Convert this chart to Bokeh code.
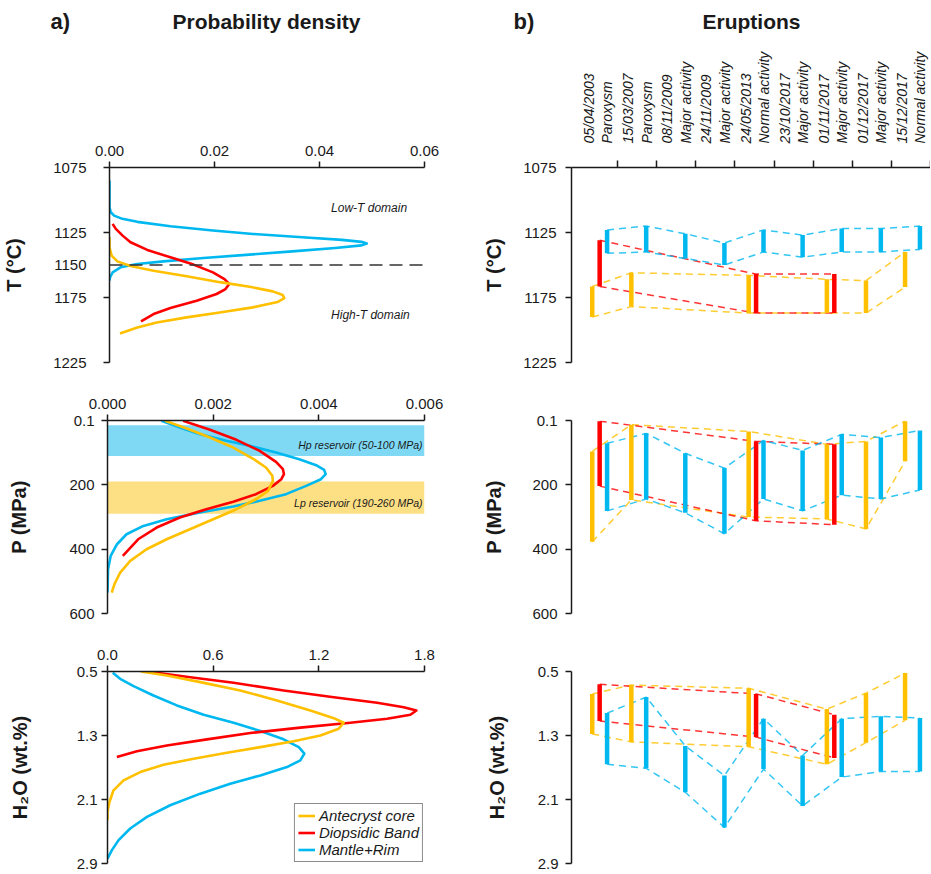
import math
from bokeh.plotting import figure
from bokeh.layouts import row, column
from bokeh.models import (Range1d, FixedTicker, PrintfTickFormatter, CustomJSTickFormatter,
                          Label, Legend, LegendItem, Span)
from bokeh.embed import file_html
from bokeh.resources import INLINE

# ---------------- data: probability density curves (left column) ----------------
T_core_T = [1128.7, 1136.4, 1142.8, 1147.2, 1150.7, 1154.4, 1158.7, 1163.2, 1166.7, 1170.3, 1173.1, 1175.4,
            1178.5, 1182.6, 1186.5, 1190.3, 1194.2, 1198, 1202.7]
T_core_d = [0, 0, 0.0004, 0.0015, 0.004, 0.0084, 0.0147, 0.021, 0.0267, 0.0311, 0.033, 0.0333,
            0.032, 0.0273, 0.021, 0.0147, 0.009, 0.0053, 0.002]
T_band_T = [1118.4, 1122.2, 1127.4, 1132.5, 1138.4, 1144.1, 1149.7, 1155.7, 1160.8, 1164.6, 1168.5, 1172.3,
            1177.5, 1183.1, 1187.7, 1193.4]
T_band_d = [0.0006, 0.0012, 0.0025, 0.004, 0.0072, 0.0116, 0.016, 0.0197, 0.0219, 0.0228, 0.0221, 0.0204,
            0.0166, 0.0116, 0.0084, 0.006]
T_rim_T = [1085, 1105.6, 1109.4, 1112, 1114.5, 1116.8, 1120.2, 1123.5, 1126.1, 1128.7, 1130.7, 1132.2, 1133.5,
           1134.9, 1136.9, 1139.5, 1141.8, 1144.6, 1147.2, 1149.2, 1151.8, 1155.7, 1159.5, 1162]
T_rim_d = [0, 0, 0.00025, 0.00088, 0.00245, 0.0053, 0.0116, 0.0197, 0.0273, 0.0367, 0.0443, 0.048, 0.049,
           0.048, 0.043, 0.0348, 0.0273, 0.0179, 0.0103, 0.0053, 0.0021, 0.0006, 0.0001, 0]

P_core_P = [1, 24.9, 52.9, 84, 118.2, 146.2, 172, 187.6, 218.7, 244.8, 275.8, 307, 338, 369.2, 400.3, 436.5,
            472.8, 509.2, 535]
P_core_d = [0.00109, 0.0015, 0.00194, 0.00238, 0.00275, 0.003, 0.00312, 0.00313, 0.00304, 0.00281, 0.00244,
            0.002, 0.00156, 0.00112, 0.00074, 0.00043, 0.00024, 0.00013, 0.00008]
P_band_P = [1, 29, 60.1, 94.3, 128.6, 151.4, 167, 182.5, 203.2, 229, 252.9, 275.8, 301.7, 332.8, 369.2, 421]
P_band_d = [0.00143, 0.00194, 0.00244, 0.00288, 0.00319, 0.00332, 0.00334, 0.00329, 0.00313, 0.00281, 0.00238,
            0.00187, 0.00137, 0.00093, 0.00058, 0.00029]
P_rim_P = [1, 21.8, 42.6, 63.2, 78.8, 99.5, 120.3, 139, 153.4, 167, 182.5, 203.2, 229, 249.8, 267.5, 286.2,
           307, 327.6, 353.6, 384.7, 421, 462.5, 535]
P_rim_d = [0.00102, 0.00137, 0.00175, 0.00225, 0.00269, 0.00319, 0.00363, 0.00395, 0.0041, 0.00413, 0.00404,
           0.00376, 0.00338, 0.00288, 0.00238, 0.00175, 0.00112, 0.00068, 0.00036, 0.00018, 0.00006, 0.00001, 0]

H_core_H = [0.5, 0.55, 0.633, 0.737, 0.862, 0.987, 1.083, 1.14, 1.215, 1.299, 1.373, 1.445, 1.515, 1.59, 1.665,
            1.757, 1.86, 1.985, 2.131, 2.256, 2.36]
H_core_d = [0.19, 0.337, 0.527, 0.754, 0.962, 1.152, 1.285, 1.341, 1.313, 1.209, 1.057, 0.868, 0.678, 0.489,
            0.318, 0.186, 0.091, 0.034, 0.011, 0, 0]
H_band_H = [0.5, 0.571, 0.641, 0.737, 0.821, 0.891, 0.946, 0.987, 1.04, 1.09, 1.14, 1.202, 1.269, 1.348, 1.424,
            1.498, 1.57]
H_band_d = [0.224, 0.47, 0.716, 1.0, 1.285, 1.531, 1.682, 1.754, 1.72, 1.588, 1.379, 1.095, 0.811, 0.565, 0.337,
            0.167, 0.053]
H_rim_H = [0.517, 0.591, 0.683, 0.8, 0.924, 1.04, 1.14, 1.245, 1.348, 1.445, 1.527, 1.611, 1.695, 1.799, 1.902,
           2.027, 2.172, 2.318, 2.463, 2.608, 2.733, 2.84]
H_rim_d = [0.03, 0.072, 0.148, 0.261, 0.394, 0.546, 0.716, 0.868, 1.0, 1.086, 1.118, 1.095, 1.019, 0.868, 0.697,
           0.527, 0.356, 0.224, 0.129, 0.063, 0.025, 0]

T_domain_limit = 1150
Hp_band = [15, 110]
Lp_band = [190, 290]

# ---------------- data: eruptions (right column) ----------------
dates = ["05/04/2003", "15/03/2007", "08/11/2009", "24/11/2009", "24/05/2013",
         "23/10/2017", "01/11/2017", "01/12/2017", "15/12/2017"]
kinds = ["Paroxysm", "Paroxysm", "Major activity", "Major activity", "Normal activity",
         "Major activity", "Major activity", "Major activity", "Normal activity"]

T_core_lo = [1166.5, 1156, None, None, 1158, None, 1161, 1162, 1140]
T_core_hi = [1190, 1182, None, None, 1187, None, 1187, 1187, 1167]
T_band_lo = [1131, None, None, None, 1157, None, 1157, None, None]
T_band_hi = [1166.5, None, None, None, 1187, None, 1187, None, None]
T_rim_lo = [1123, 1120, 1126, 1133, 1123, 1127, 1122, 1122, 1120]
T_rim_hi = [1141, 1140, 1145, 1150, 1140, 1144, 1140, 1140, 1138]

P_core_lo = [96, 13, None, None, 34, None, 74, 65, 2]
P_core_hi = [377, 247, None, None, 300, None, 306, 337, 127]
P_band_lo = [2, None, None, None, 65, None, 74, None, None]
P_band_hi = [204, None, None, None, 312, None, 324, None, None]
P_rim_lo = [71, 40, 102, 148, 62, 93, 43, 53, 31]
P_rim_hi = [281, 244, 287, 352, 244, 281, 232, 244, 216]

H_core_lo = [0.78, 0.67, None, None, 0.71, None, 0.97, 0.77, 0.52]
H_core_hi = [1.28, 1.38, None, None, 1.44, None, 1.66, 1.39, 1.11]
H_band_lo = [0.66, None, None, None, 0.78, None, 1.04, None, None]
H_band_hi = [1.12, None, None, None, 1.32, None, 1.58, None, None]
H_rim_lo = [1.02, 0.82, 1.43, 1.80, 1.09, 1.55, 1.09, 1.06, 1.08]
H_rim_hi = [1.66, 1.71, 2.01, 2.45, 1.72, 2.18, 1.82, 1.75, 1.75]

# ticks
T_ticks = [1075, 1125, 1175, 1225]
P_ticks = [0.1, 200, 400, 600]
H_ticks = [0.5, 1.3, 2.1, 2.9]
dT_ticks = [0, 0.02, 0.04, 0.06]
dP_ticks = [0, 0.002, 0.004, 0.006]
dH_ticks = [0, 0.6, 1.2, 1.8]

# ---------------- style ----------------
FONT = "Liberation Sans"
INK = "#1a1a1a"
C_CORE, C_BAND, C_RIM = "#FFC000", "#FF0000", "#00B8F0"
HP_FILL, LP_FILL = "#7FD9F4", "#FDDF84"
W_L, W_R = 470, 460
HDR_H = 48
ROWS = [(342, 119, 28), (250, 30, 27), (232, 31, 9)]


def base_axis(ax, standoff, size="15px"):
    ax.axis_line_width = 1.5
    ax.axis_line_color = INK
    ax.major_tick_line_width = 1.5
    ax.major_tick_line_color = INK
    ax.major_tick_out = 6
    ax.major_tick_in = 0
    ax.minor_tick_line_color = None
    ax.major_label_text_font = FONT
    ax.major_label_text_font_size = size
    ax.major_label_text_color = INK
    ax.major_label_standoff = standoff


def make_fig(w, dims, xr, yr, xloc, bl, br, yloc="left"):
    h, bt, bb = dims
    p = figure(width=w, height=h, x_range=Range1d(*xr), y_range=Range1d(*yr),
               x_axis_location=xloc, y_axis_location=yloc, output_backend="svg",
               toolbar_location=None, title=None, min_border_left=bl, min_border_right=br,
               min_border_top=bt, min_border_bottom=bb)
    p.outline_line_color = None
    p.grid.visible = False
    p.background_fill_color = "white"
    p.border_fill_color = "white"
    return p


def y_axis(p, ticks, fmt, label, standoff, lab_standoff):
    ya = p.yaxis[0]
    base_axis(ya, standoff)
    ya.ticker = FixedTicker(ticks=ticks)
    ya.formatter = PrintfTickFormatter(format=fmt)
    ya.axis_label = label
    ya.axis_label_text_font = FONT
    ya.axis_label_text_font_style = "bold"
    ya.axis_label_text_font_size = "20px"
    ya.axis_label_text_color = INK
    ya.axis_label_standoff = lab_standoff
    return ya


def left_panel(dims, xr, xticks, xfmt, yr, yticks, yfmt, ylabel, st, lst):
    p = make_fig(W_L, dims, xr, yr, "above", 107, 46)
    xa = p.xaxis[0]
    base_axis(xa, 6)
    xa.ticker = FixedTicker(ticks=xticks)
    xa.formatter = PrintfTickFormatter(format=xfmt)
    y_axis(p, yticks, yfmt, ylabel, st, lst)
    return p


def curve(p, x, y, color):
    return p.line(x, y, line_color=color, line_width=2.6, line_join="round")


def txt(p, x, y, text, size, style="italic", align="left", xoff=0, **kw):
    p.add_layout(Label(x=x, y=y, text=text, text_font=FONT, text_font_size=size,
                       text_font_style=style, text_align=align, text_baseline="middle",
                       text_color=INK, x_offset=xoff, **kw))


# ---- header ----
HDR = make_fig(W_L + W_R, (HDR_H, 0, 0), (0, W_L + W_R), (HDR_H, 0), None, 0, 0, yloc=None)
txt(HDR, 50, 21, "a)", "22px", style="bold")
txt(HDR, 266, 21, "Probability density", "21px", style="bold", align="center")
txt(HDR, 513, 21, "b)", "22px", style="bold")
txt(HDR, 751, 21, "Eruptions", "21px", style="bold", align="center")

# ---- left column ----
L1 = left_panel(ROWS[0], (0, 0.06), dT_ticks, "%.2f", (1225, 1075), T_ticks, "%d", "T (°C)", 11, 25)
ya1 = L1.yaxis[0]
# labels at the four ticks plus the domain limit; tick marks only at the four ticks
ya1.ticker = FixedTicker(ticks=sorted(T_ticks + [T_domain_limit]), minor_ticks=T_ticks)
ya1.major_tick_out = 0
ya1.major_tick_line_color = None
ya1.minor_tick_line_color = INK
ya1.minor_tick_line_width = 1.5
ya1.minor_tick_out = 6
ya1.minor_tick_in = 0
ya1.major_label_standoff = 17
curve(L1, T_rim_d, T_rim_T, C_RIM)
curve(L1, T_band_d, T_band_T, C_BAND)
curve(L1, T_core_d, T_core_T, C_CORE)
L1.add_layout(Span(location=T_domain_limit, dimension="width", line_color="#333333",
                   line_width=1.5, line_dash="13 7"))
txt(L1, 0.0422, 1105.8, "Low-T domain", "12px")
txt(L1, 0.0422, 1188.8, "High-T domain", "12px")

L2 = left_panel(ROWS[1], (0, 0.006), dP_ticks, "%.3f", (600, 0), P_ticks, "%g", "P (MPa)", 7, 36)
L2.quad(left=0, right=dP_ticks[-1], bottom=Hp_band[0], top=Hp_band[1], fill_color=HP_FILL, line_color=None)
L2.quad(left=0, right=dP_ticks[-1], bottom=Lp_band[0], top=Lp_band[1], fill_color=LP_FILL, line_color=None)
curve(L2, P_rim_d, P_rim_P, C_RIM)
curve(L2, P_band_d, P_band_P, C_BAND)
curve(L2, P_core_d, P_core_P, C_CORE)
txt(L2, 0.006, 77.7, "Hp reservoir (50-100 MPa)", "10.5px", align="right", xoff=-2)
txt(L2, 0.006, 258, "Lp reservoir (190-260 MPa)", "10.5px", align="right", xoff=-2)

L3 = left_panel(ROWS[2], (0, 1.8), dH_ticks, "%.1f", (2.9, 0.5), H_ticks, "%.1f", "H\u2082O (wt.%)", 4, 43)
r_rim = curve(L3, H_rim_d, H_rim_H, C_RIM)
r_band = curve(L3, H_band_d, H_band_H, C_BAND)
r_core = curve(L3, H_core_d, H_core_H, C_CORE)
legend = Legend(items=[LegendItem(label="Antecryst core", renderers=[r_core]),
                       LegendItem(label="Diopsidic Band", renderers=[r_band]),
                       LegendItem(label="Mantle+Rim", renderers=[r_rim])],
                location="bottom_right", margin=1, padding=3, spacing=0,
                glyph_width=17, glyph_height=17, label_height=17, label_standoff=4,
                label_text_font=FONT, label_text_font_size="15px", label_text_font_style="italic",
                label_text_color=INK, border_line_color=INK, border_line_width=1.5,
                background_fill_color="white", background_fill_alpha=1)
L3.add_layout(legend)

# ---- right column ----
OFFS = {"core": 0.35, "band": 0.54, "rim": 0.73}


def draw_ranges(p, series):
    drawn = []
    for lo, hi, color, off in series:
        idx = [i for i, v in enumerate(lo) if v is not None]
        xs = [i + off for i in idx]
        ylo = [lo[i] for i in idx]
        yhi = [hi[i] for i in idx]
        for ys in (ylo, yhi):
            p.line(xs, ys, line_color=color, line_width=1.5, line_dash="7 5", line_alpha=0.8)
        drawn.append((xs, ylo, yhi, color))
    for xs, ylo, yhi, color in drawn:
        p.segment(x0=xs, x1=xs, y0=ylo, y1=yhi, line_color=color, line_width=4.5)


def right_panel(dims, yr, yticks, yfmt, ylabel, st, lst, top_axis):
    p = make_fig(W_R, dims, (-0.18, len(dates)), yr, "above" if top_axis else None, 101, 0)
    y_axis(p, yticks, yfmt, ylabel, st, lst)
    return p


R1 = right_panel(ROWS[0], (1225, 1075), T_ticks, "%d", "T (°C)", 9, 15, True)
xa = R1.xaxis[0]
base_axis(xa, 17, size="14px")
label_pos = []
for i in range(len(dates)):
    label_pos += [i + 0.27, i + 0.74]
xa.ticker = FixedTicker(ticks=label_pos, minor_ticks=list(range(1, len(dates) + 1)))
xa.formatter = CustomJSTickFormatter(args=dict(dates=dates, kinds=kinds), code="""
    const i = Math.floor(tick);
    return (tick - i < 0.5) ? dates[i] : kinds[i];
""")
xa.major_label_orientation = "vertical"
xa.major_label_text_font_style = "italic"
xa.major_tick_out = 7
xa.major_tick_line_color = None
xa.minor_tick_line_color = INK
xa.minor_tick_line_width = 1.5
xa.minor_tick_out = 7
xa.minor_tick_in = 0
draw_ranges(R1, [(T_core_lo, T_core_hi, C_CORE, OFFS["core"]),
                 (T_band_lo, T_band_hi, C_BAND, OFFS["band"]),
                 (T_rim_lo, T_rim_hi, C_RIM, OFFS["rim"])])

R2 = right_panel(ROWS[1], (600, 0), P_ticks, "%g", "P (MPa)", 8, 24, False)
draw_ranges(R2, [(P_core_lo, P_core_hi, C_CORE, OFFS["core"]),
                 (P_band_lo, P_band_hi, C_BAND, OFFS["band"]),
                 (P_rim_lo, P_rim_hi, C_RIM, OFFS["rim"])])

R3 = right_panel(ROWS[2], (2.9, 0.5), H_ticks, "%.1f", "H\u2082O (wt.%)", 7, 27, False)
draw_ranges(R3, [(H_core_lo, H_core_hi, C_CORE, OFFS["core"]),
                 (H_band_lo, H_band_hi, C_BAND, OFFS["band"]),
                 (H_rim_lo, H_rim_hi, C_RIM, OFFS["rim"])])

layout = column(HDR, row(L1, R1), row(L2, R2), row(L3, R3))
open("out.html", "w").write(file_html(layout, INLINE))
